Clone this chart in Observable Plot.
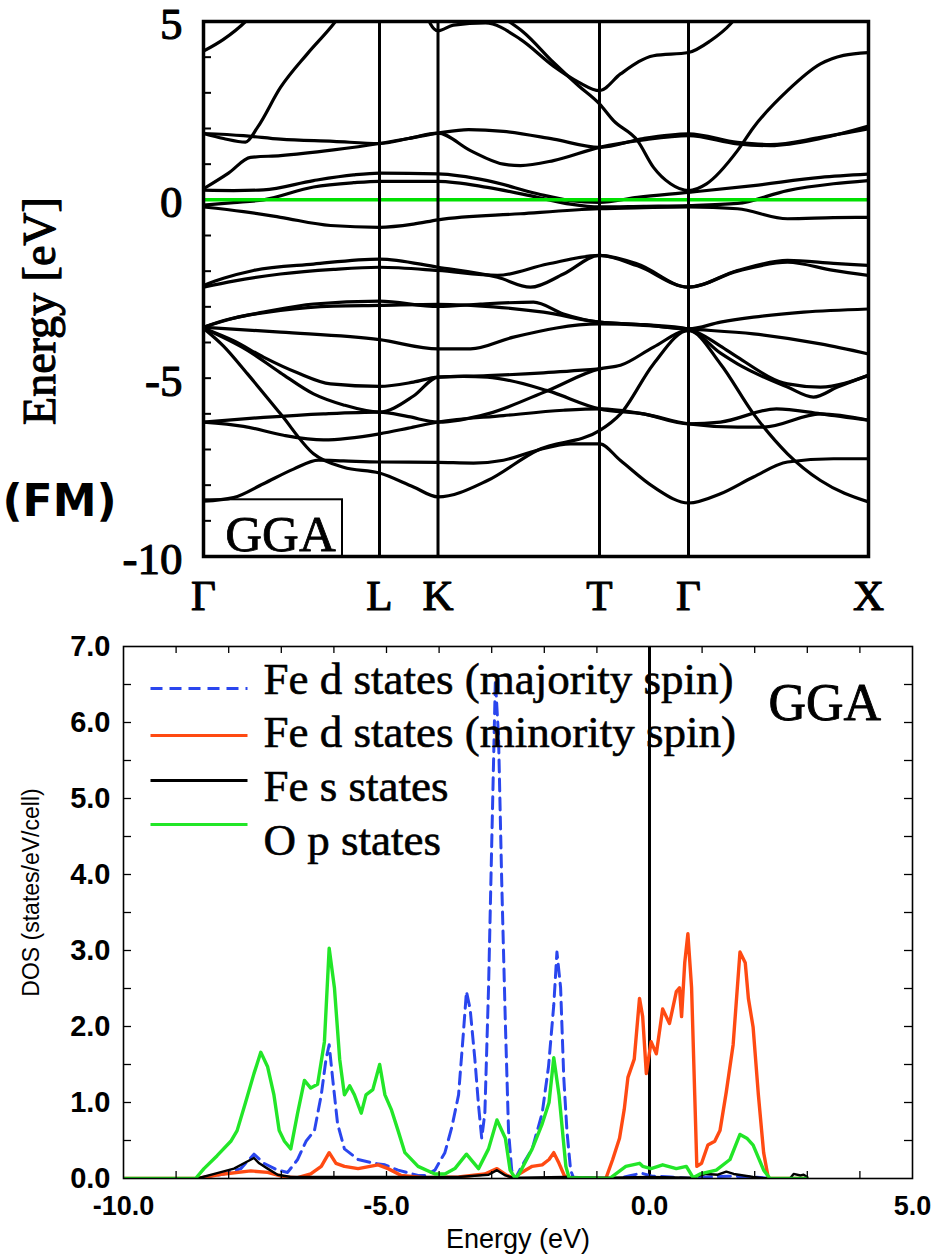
<!DOCTYPE html>
<html><head><meta charset="utf-8">
<script src="https://cdn.jsdelivr.net/npm/d3@7"></script>
<script src="https://cdn.jsdelivr.net/npm/@observablehq/plot@0.6"></script>
<style>
html,body{margin:0;padding:0;background:#fff;}
#chart{position:relative;width:950px;height:1258px;overflow:hidden;background:#fff;}
#chart svg{position:absolute;left:0;}
</style></head><body><div id="chart"></div>
<script>
// ---------- Band structure (top) ----------
const kPos = [0, 176, 234.5, 396, 485, 665];
const kLabels = ["Γ", "L", "K", "T", "Γ", "X"];
const energyTickLabels = [5, 0, -5, -10];
const energyMinorTicks = [4, 3, 2, 1, -1, -2, -3, -4, -5, -6, -7, -8, -9];

const bandA = [[0,4.17],[20,4.5],[42,5.0],[52,5.3]];
const bandB = [[0,1.86],[20,1.72],[42,1.62],[54,2.03],[77,3.15],[104,4.1],[130,4.93],[140,5.3]];
const bandC = [[0,1.86],[40,1.8],[77,1.7],[130,1.64],[176,1.58],[205,1.72],[234.5,1.87],[265,1.97],[300,1.92],[350,1.7],[396,1.47],[440,1.72],[485,1.85],[534,1.61],[567,1.55],[617,1.75],[665,1.99]];
const bandD = [[0,0.31],[25,0.75],[47,1.19],[77,1.24],[130,1.4],[176,1.58],[205,1.72],[234.5,1.87],[267,1.38],[300,1.0],[317,0.96],[350,1.1],[396,1.47],[440,1.68],[485,1.8],[534,1.57],[567,1.52],[617,1.72],[665,2.07]];
const bandE = [[222,5.3],[227,4.93],[234.5,4.74],[250,4.9],[282,4.96],[317,4.5],[350,3.75],[375,3.3],[396,3.06],[417,3.53],[450,4.04],[485,4.13],[507,4.46],[527,4.93],[535,5.2]];
const bandF = [[300,5.1],[320,4.7],[350,3.85],[375,3.2],[396,2.69],[410,2.22],[434,1.66],[450,0.91],[467,0.45],[485,0.26],[503,0.45],[534,1.38],[550,2.03],[584,3.06],[617,3.81],[640,4.05],[665,4.13]];
const bandG = [[0,0.27],[30,0.26],[60,0.28],[110,0.54],[150,0.7],[176,0.75],[234.5,0.73],[284,0.54],[334,0.17],[367,-0.02],[396,-0.07],[434,0.07],[485,0.21],[550,0.4],[617,0.63],[665,0.72]];
const bandH = [[0,-0.15],[30,-0.08],[60,0.0],[110,0.36],[150,0.48],[176,0.52],[234.5,0.52],[284,0.35],[334,0.07],[367,-0.12],[396,-0.2],[440,-0.18],[485,-0.16],[534,-0.1],[584,0.26],[630,0.45],[665,0.54]];
const bandI = [[0,-0.2],[40,-0.33],[77,-0.49],[127,-0.72],[176,-0.77],[210,-0.68],[234.5,-0.56],[317,-0.39],[396,-0.25],[440,-0.22],[485,-0.2],[534,-0.25],[584,-0.53],[630,-0.5],[665,-0.49]];
const bandJ = [[0,-2.4],[20,-2.2],[50,-1.98],[110,-1.8],[176,-1.66],[234.5,-1.89],[294,-2.17],[327,-2.45],[360,-2.08],[396,-1.56],[434,-1.8],[485,-2.45],[534,-1.98],[584,-1.7],[630,-1.78],[665,-1.84]];
const bandK = [[0,-2.45],[30,-2.28],[77,-2.08],[130,-1.95],[176,-1.89],[234.5,-1.98],[294,-2.12],[344,-1.8],[396,-1.56],[434,-1.85],[485,-2.45],[534,-2.0],[584,-1.75],[630,-1.98],[665,-2.12]];
const bandL = [[0,-3.57],[77,-3.71],[176,-3.92],[234.5,-4.18],[267,-4.18],[310,-3.85],[396,-3.48],[440,-3.52],[485,-3.62],[550,-3.76],[617,-4.04],[665,-4.32]];
const bandM = [[0,-3.57],[25,-3.35],[60,-3.15],[110,-2.92],[176,-2.84],[234.5,-2.99],[277,-2.92],[330,-2.87],[360,-3.2],[396,-3.43],[440,-3.5],[485,-3.62],[517,-3.43],[550,-3.29],[600,-3.15],[665,-3.06]];
const bandN = [[0,-3.57],[30,-3.32],[77,-3.1],[130,-2.98],[176,-2.96],[234.5,-2.93],[290,-3.0],[340,-3.15],[396,-3.43],[440,-3.5],[485,-3.62],[517,-4.1],[534,-4.41],[584,-5.16],[617,-5.25],[665,-4.92]];
const bandO = [[0,-3.6],[30,-3.95],[60,-4.41],[94,-4.85],[127,-5.16],[176,-5.23],[210,-5.11],[234.5,-4.97],[260,-4.95],[284,-4.97],[344,-5.35],[396,-5.86],[440,-6.0],[485,-6.28],[534,-6.37],[560,-6.37],[617,-6.0],[665,-6.18]];
const bandP = [[0,-3.6],[44,-4.22],[77,-4.85],[110,-5.44],[140,-5.75],[176,-5.95],[210,-5.5],[234.5,-4.97],[284,-4.93],[340,-4.85],[396,-4.74]];
const bandQ = [[0,-6.23],[60,-6.1],[120,-6.0],[176,-5.95],[205,-6.08],[234.5,-6.23],[284,-6.0],[344,-5.35],[396,-4.74],[417,-4.64],[450,-4.13],[485,-3.66],[517,-4.3],[534,-4.6],[584,-5.25],[610,-5.53],[634,-5.25],[665,-4.92]];
const bandR = [[0,-6.23],[40,-6.35],[80,-6.6],[120,-6.73],[176,-6.56],[205,-6.4],[234.5,-6.23],[300,-6.05],[360,-5.9],[396,-5.86],[440,-6.0],[485,-6.28],[517,-6.23],[573,-5.86],[617,-6.0],[665,-6.18]];
const bandS = [[0,-8.45],[30,-8.35],[60,-7.96],[90,-7.55],[115,-7.3],[140,-7.32],[176,-7.35],[234.5,-7.36],[270,-7.38],[300,-7.3],[334,-7.02],[367,-6.84],[396,-6.84],[417,-7.31],[450,-8.05],[485,-8.5],[517,-8.24],[550,-7.77],[584,-7.35],[630,-7.26],[665,-7.26]];
const bandT = [[0,-3.6],[20,-4.1],[44,-4.88],[77,-6.0],[110,-7.12],[140,-7.5],[176,-7.66],[210,-8.05],[234.5,-8.33],[284,-7.87],[334,-7.02],[396,-6.47],[417,-6.0],[450,-4.6],[485,-3.66],[517,-4.6],[550,-6.0],[584,-7.12],[617,-7.87],[665,-8.47]];

// ---------- DOS (bottom) ----------
const dosXTicks = [-10, -5, 0, 5];
const dosYTicks = [0, 1, 2, 3, 4, 5, 6, 7];
const dosXMinor = [-9,-8,-7,-6,-5,-4,-3,-2,-1,0,1,2,3,4];
const dosYMinor = [0.5,1,1.5,2,2.5,3,3.5,4,4.5,5,5.5,6,6.5];

const feDMajority = [[-10,0],[-8.60,0],[-8.09,0.06],[-7.77,0.13],[-7.52,0.32],[-7.33,0.20],[-7.07,0.11],[-6.88,0.08],[-6.69,0.25],[-6.53,0.49],[-6.37,0.63],[-6.24,1.10],[-6.15,1.57],[-6.09,1.76],[-6.02,1.29],[-5.93,0.72],[-5.80,0.39],[-5.54,0.25],[-5.23,0.20],[-5.03,0.18],[-4.78,0.11],[-4.40,0.04],[-4.27,0.04],[-4.08,0.11],[-3.89,0.34],[-3.76,0.67],[-3.63,1.10],[-3.54,1.90],[-3.48,2.46],[-3.41,2.23],[-3.32,1.57],[-3.25,0.96],[-3.19,0.53],[-3.13,0.86],[-3.06,2.51],[-3.00,4.39],[-2.93,6.56],[-2.87,5.81],[-2.81,3.92],[-2.74,2.04],[-2.68,0.63],[-2.62,0.11],[-2.55,0],[-2.43,0.16],[-2.23,0.39],[-2.04,0.86],[-1.92,1.47],[-1.82,2.28],[-1.76,2.98],[-1.69,2.51],[-1.63,1.33],[-1.57,0.63],[-1.50,0.11],[-1.44,0],[-0.6,0],[-0.35,0.04],[-0.15,0.07],[0.05,0.03],[0.4,0.02],[0.8,0],[1.1,0.02],[1.5,0.03],[2.0,0.02],[2.3,0],[3.0,0]];
const feDMinority = [[-10,0],[-8.60,0],[-8.09,0.06],[-7.58,0.10],[-7.26,0.08],[-6.94,0.02],[-6.69,0.01],[-6.44,0.06],[-6.24,0.16],[-6.09,0.34],[-5.96,0.20],[-5.80,0.16],[-5.54,0.13],[-5.16,0.18],[-4.97,0.13],[-4.72,0.04],[-4.27,0.01],[-3.63,0.02],[-3.13,0.06],[-2.90,0.13],[-2.71,0.04],[-2.55,0],[-2.48,0.06],[-2.23,0.16],[-2.04,0.18],[-1.91,0.25],[-1.82,0.34],[-1.72,0.20],[-1.62,0.04],[-1.53,0],[-0.83,0],[-0.70,0.25],[-0.57,0.53],[-0.48,0.91],[-0.41,1.33],[-0.29,1.57],[-0.19,2.37],[-0.13,2.13],[-0.06,1.38],[0.03,1.80],[0.13,1.64],[0.25,2.23],[0.38,2.04],[0.51,2.46],[0.57,2.51],[0.61,2.13],[0.67,2.84],[0.73,3.22],[0.80,2.51],[0.86,1.10],[0.90,0.16],[0.99,0.20],[1.11,0.44],[1.24,0.49],[1.34,0.63],[1.46,1.14],[1.59,1.76],[1.72,2.98],[1.82,2.84],[1.88,2.37],[1.97,1.99],[2.07,1.10],[2.17,0.34],[2.26,0],[3.0,0]];
const feS = [[-10,0],[-8.60,0],[-8.22,0.07],[-7.90,0.13],[-7.71,0.20],[-7.52,0.27],[-7.42,0.20],[-7.26,0.13],[-7.07,0.05],[-6.82,0.02],[-5.54,0.02],[-3.63,0.02],[-3.06,0.05],[-2.90,0.11],[-2.74,0.04],[-2.55,0],[-2.48,0.01],[-1.6,0.02],[-0.8,0.01],[0.0,0.02],[0.8,0.01],[1.08,0.06],[1.3,0.05],[1.46,0.09],[1.6,0.06],[1.97,0.02],[2.23,0],[2.67,0],[2.74,0.06],[2.87,0.04],[2.93,0.05],[3.0,0.02]];
const opStates = [[-10,0],[-8.63,0],[-8.47,0.13],[-8.22,0.30],[-7.96,0.49],[-7.84,0.63],[-7.68,1.00],[-7.52,1.38],[-7.39,1.66],[-7.26,1.47],[-7.14,1.10],[-7.04,0.63],[-6.94,0.49],[-6.82,0.39],[-6.69,0.86],[-6.56,1.29],[-6.44,1.19],[-6.31,1.24],[-6.18,1.80],[-6.09,3.03],[-5.99,2.51],[-5.89,1.57],[-5.80,1.10],[-5.70,1.22],[-5.61,1.10],[-5.48,0.86],[-5.39,1.10],[-5.26,1.17],[-5.13,1.50],[-5.03,1.10],[-4.91,0.91],[-4.78,0.63],[-4.65,0.34],[-4.40,0.16],[-4.08,0.06],[-3.89,0.06],[-3.70,0.13],[-3.48,0.32],[-3.25,0.13],[-3.06,0.39],[-2.90,0.77],[-2.74,0.53],[-2.65,0.11],[-2.55,0],[-2.48,0.06],[-2.23,0.39],[-2.04,0.72],[-1.91,1.00],[-1.82,1.59],[-1.72,1.10],[-1.59,0.16],[-1.53,0.01],[-0.76,0],[-0.45,0.16],[-0.19,0.20],[-0.13,0.16],[0.03,0.13],[0.25,0.18],[0.51,0.13],[0.70,0.16],[0.83,0.01],[0.96,0.06],[1.27,0.11],[1.53,0.25],[1.72,0.58],[1.85,0.53],[1.97,0.44],[2.17,0.11],[2.29,0],[3.0,0]];

const legendLabels = ["Fe d states (majority spin)", "Fe d states (minority spin)", "Fe s states", "O p states"];
const legendColors = ["#2a46ee", "#ff4a12", "#000000", "#22e628"];

// ---------- helpers ----------
const bandSet = {bandA,bandB,bandC,bandD,bandE,bandF,bandG,bandH,bandI,bandJ,bandK,bandL,bandM,bandN,bandO,bandP,bandQ,bandR,bandS,bandT};
const bandRows = Object.entries(bandSet).flatMap(([name, pts]) => pts.map(([k, E]) => ({band: name, k, E})));
const toRows = pts => pts.map(([E, D]) => ({E, D}));

const serif = "Liberation Serif, Times New Roman, serif";
const sans = "Liberation Sans, Arial, Helvetica, sans-serif";
const heavy = {fill: "black", stroke: "black", strokeWidth: 1.1};   // slightly heavier regular serif

// Top panel geometry
const W1 = 665, H1 = 535;
const bandPlot = Plot.plot({
  width: 950, height: 620,
  marginLeft: 203, marginRight: 82, marginTop: 21, marginBottom: 64,
  x: {domain: [0, 665], axis: null},
  y: {domain: [-10, 5], axis: null},
  style: {background: "white"},
  marks: [
    Plot.line(bandRows, {x: "k", y: "E", z: "band", stroke: "black", strokeWidth: 3.2, curve: "monotone-x", clip: true}),
    Plot.ruleY([0], {stroke: "#00e000", strokeWidth: 3.5}),
    Plot.ruleX(kPos.slice(1, -1), {stroke: "black", strokeWidth: 3}),
    Plot.tickY(energyMinorTicks, {y: d => d, insetRight: W1 - 8, stroke: "black", strokeWidth: 2}),
    Plot.frame({stroke: "black", strokeWidth: 3.5}),
    Plot.rect([{x1: 0, x2: 139, y1: -10, y2: -8.41}], {x1: "x1", x2: "x2", y1: "y1", y2: "y2", fill: "none", stroke: "black", strokeWidth: 2}),
    Plot.text(["GGA"], {x: 77, y: -10, dy: -6, text: d => d, lineAnchor: "bottom", fontSize: 51, fontFamily: serif, ...heavy, strokeWidth: 0.8}),
    Plot.text(energyTickLabels, {x: 0, y: d => d, text: d => String(d), textAnchor: "end", dx: -21, dy: 3, fontSize: 45, fontFamily: serif, ...heavy}),
    Plot.text(kPos.map((k, i) => ({k, label: kLabels[i]})), {x: "k", y: -10, text: "label", dy: 53, lineAnchor: "bottom", fontSize: 43, fontFamily: serif, ...heavy}),
    Plot.text(["Energy [eV]"], {frameAnchor: "left", dx: -163, dy: 22, rotate: -90, textAnchor: "middle", text: d => d, fontSize: 46, fontFamily: serif, ...heavy}),
    Plot.text(["(FM)"], {frameAnchor: "left", dx: -144, dy: 213, textAnchor: "middle", text: d => d, fontSize: 44, fontWeight: "bold", fontFamily: "DejaVu Sans, sans-serif", fill: "black"})
  ]
});
bandPlot.style.top = "0px";

// Bottom panel geometry
const W2 = 789, H2 = 532;
const dosX = px => -10 + (px - 123) * 15 / W2;   // pixel -> energy (for annotations)
const dosY = py => (1178 - py) * 7 / H2;        // pixel -> DOS (for annotations)
const legendLineY = [688, 735, 780, 824];
const legendTextY = [693, 746, 800, 854];
const legendRows = legendLabels.map((label, i) => ({label, color: legendColors[i], yl: dosY(legendLineY[i]), yt: dosY(legendTextY[i])}));

const dosPlot = Plot.plot({
  width: 950, height: 638,
  marginLeft: 123, marginRight: 38, marginTop: 26, marginBottom: 80,
  x: {domain: [-10, 5], axis: null},
  y: {domain: [0, 7], axis: null},
  style: {background: "white"},
  marks: [
    Plot.ruleX([0], {stroke: "black", strokeWidth: 3}),
    Plot.line(toRows(feDMajority), {x: "E", y: "D", stroke: legendColors[0], strokeWidth: 3, strokeDasharray: "12,7", clip: true}),
    Plot.line(toRows(feDMinority), {x: "E", y: "D", stroke: legendColors[1], strokeWidth: 3.4, clip: true}),
    Plot.line(toRows(feS), {x: "E", y: "D", stroke: legendColors[2], strokeWidth: 2.4, clip: true}),
    Plot.line(toRows(opStates), {x: "E", y: "D", stroke: legendColors[3], strokeWidth: 3.4, clip: true}),
    Plot.tickY(dosYMinor, {y: d => d, insetRight: W2 - 8, stroke: "black", strokeWidth: 1.3}),
    Plot.tickY(dosYMinor, {y: d => d, insetLeft: W2 - 8, stroke: "black", strokeWidth: 1.3}),
    Plot.tickX(dosXMinor, {x: d => d, insetBottom: H2 - 7, stroke: "black", strokeWidth: 1.3}),
    Plot.tickX(dosXMinor, {x: d => d, insetTop: H2 - 7, stroke: "black", strokeWidth: 1.3}),
    Plot.frame({stroke: "black", strokeWidth: 1.6}),
    // legend
    Plot.link(legendRows.slice(0, 1), {x1: dosX(150), x2: dosX(247), y1: "yl", y2: "yl", stroke: "color", strokeWidth: 3, strokeDasharray: "12,7"}),
    Plot.link(legendRows.slice(1), {x1: dosX(150), x2: dosX(247), y1: "yl", y2: "yl", stroke: "color", strokeWidth: 3}),
    Plot.text(legendRows, {x: dosX(263), y: "yt", text: "label", textAnchor: "start", lineAnchor: "bottom", fontSize: 45, fontFamily: serif, ...heavy, strokeWidth: 0.6}),
    Plot.text(["GGA"], {frameAnchor: "top-left", dx: 645, dy: 73, text: d => d, textAnchor: "start", lineAnchor: "bottom", fontSize: 52, fontFamily: serif, ...heavy, strokeWidth: 0.9}),
    // tick labels
    Plot.text(dosYTicks, {x: -10, y: d => d, text: d => d.toFixed(1), textAnchor: "end", dx: -13, fontSize: 29, fontWeight: "bold", fontFamily: sans, fill: "black"}),
    Plot.text(dosXTicks, {x: d => d, y: 0, text: d => d.toFixed(1), dy: 36, lineAnchor: "bottom", fontSize: 27, fontWeight: "bold", fontFamily: sans, fill: "black"}),
    Plot.text(["Energy (eV)"], {frameAnchor: "bottom", dy: 69, lineAnchor: "bottom", textAnchor: "middle", text: d => d, fontSize: 27, fontFamily: sans, fill: "black"}),
    Plot.text(["DOS (states/eV/cell)"], {frameAnchor: "left", dx: -92, dy: -20, rotate: -90, textAnchor: "middle", text: d => d, fontSize: 23, fontFamily: sans, fill: "black"})
  ]
});
dosPlot.style.top = "620px";

const chart = document.getElementById("chart");
chart.appendChild(bandPlot);
chart.appendChild(dosPlot);
</script>
</body></html>
